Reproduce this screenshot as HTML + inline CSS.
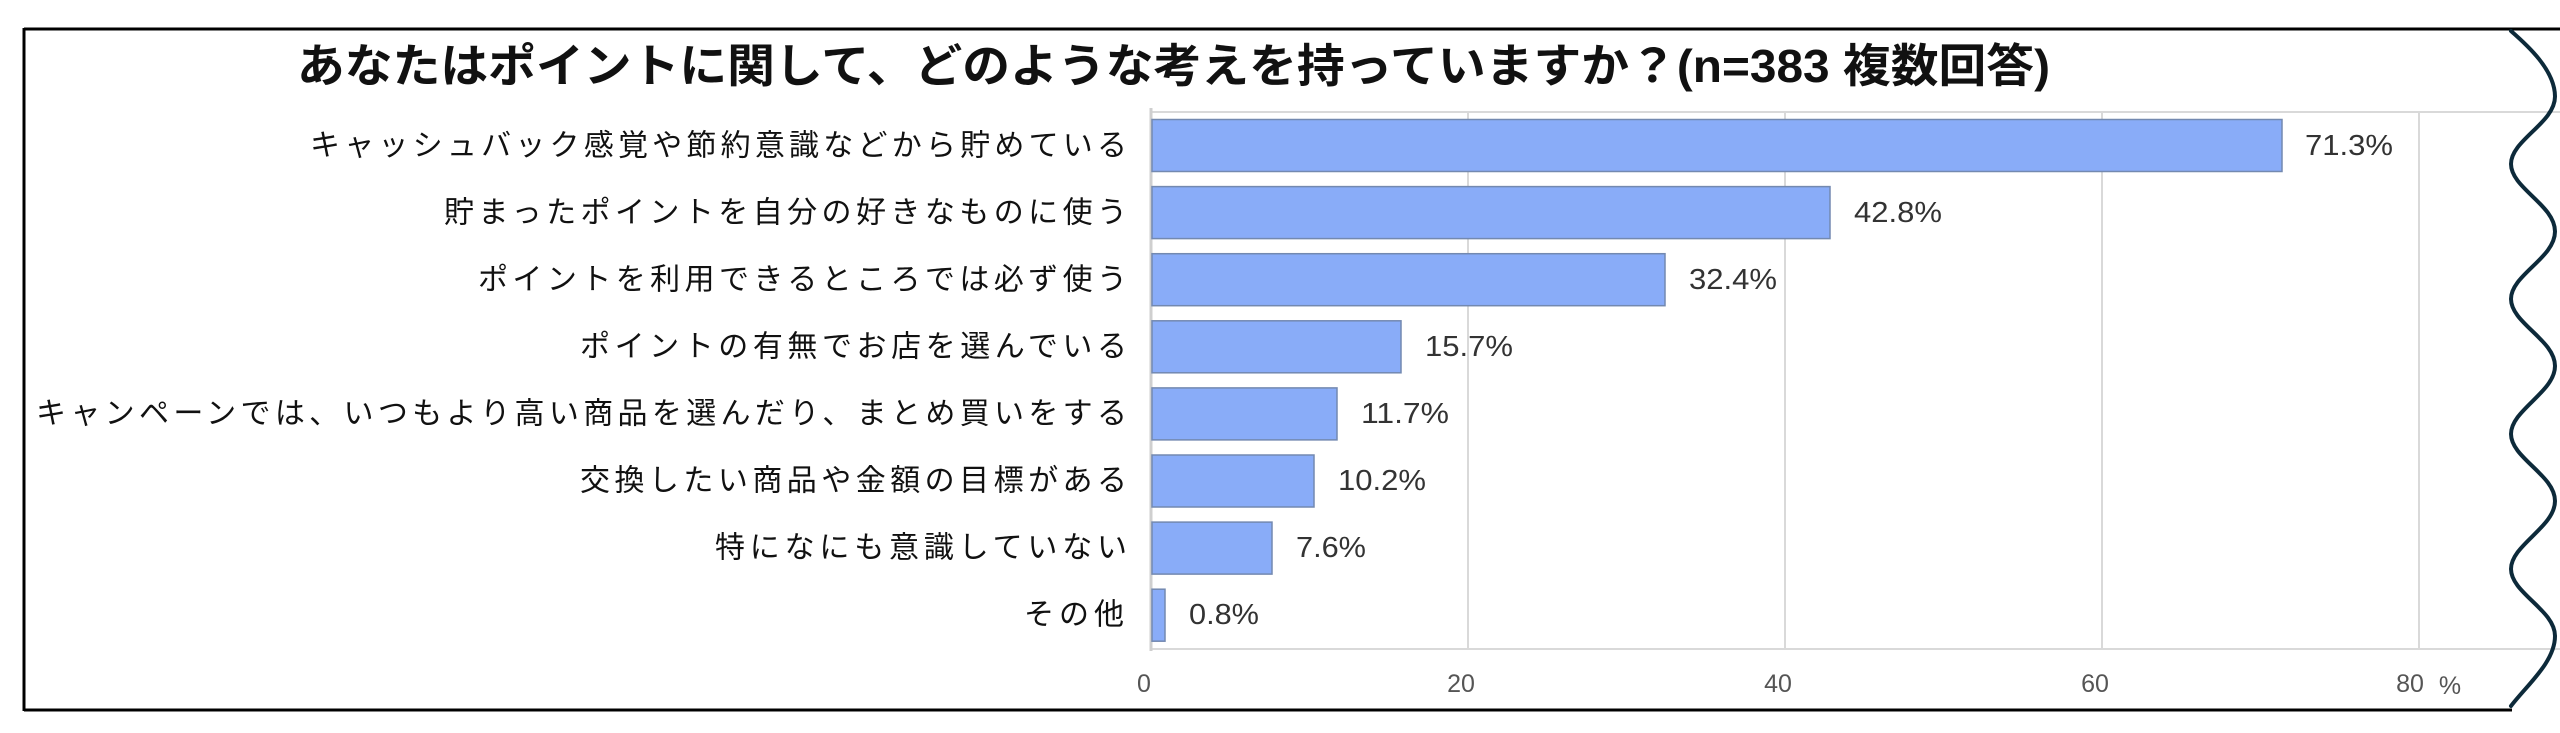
<!DOCTYPE html>
<html><head><meta charset="utf-8"><style>
html,body{margin:0;padding:0;background:#fff;}
svg{display:block;}
text{font-family:"Liberation Sans","Noto Sans CJK JP",sans-serif;}
.lab{font-size:30px;fill:#111;}
.val{font-size:29px;fill:#333;font-family:"Liberation Mono","Noto Sans CJK JP",monospace;}
.tick{font-size:25px;fill:#555;}
</style></head><body>
<svg width="2560" height="733" viewBox="0 0 2560 733" xmlns="http://www.w3.org/2000/svg">
<rect width="2560" height="733" fill="#fff"/>
<!-- gridlines -->
<g stroke="#d9d9d9" stroke-width="2">
<line x1="1151" y1="112" x2="2560" y2="112"/>
<line x1="1151" y1="649" x2="2560" y2="649"/>
<line x1="1468" y1="112" x2="1468" y2="649"/>
<line x1="1785" y1="112" x2="1785" y2="649"/>
<line x1="2102" y1="112" x2="2102" y2="649"/>
<line x1="2419" y1="112" x2="2419" y2="649"/>
</g>
<line x1="1151" y1="108" x2="1151" y2="651" stroke="#cfcfcf" stroke-width="3"/>
<!-- bars -->
<g fill="#89acf8" stroke="#7389b0" stroke-width="1.5">
<rect x="1152" y="119.5" width="1130" height="52"/>
<rect x="1152" y="186.6" width="678" height="52"/>
<rect x="1152" y="253.7" width="513" height="52"/>
<rect x="1152" y="320.8" width="249" height="52"/>
<rect x="1152" y="387.9" width="185" height="52"/>
<rect x="1152" y="455" width="162" height="52"/>
<rect x="1152" y="522.1" width="120" height="52"/>
<rect x="1152" y="589.2" width="13" height="52"/>
</g>
<!-- category labels -->
<g class="lab" text-anchor="end" dominant-baseline="central">
<text x="1127" y="146" textLength="817" lengthAdjust="spacing">キャッシュバック感覚や節約意識などから貯めている</text>
<text x="1127" y="213" textLength="683" lengthAdjust="spacing">貯まったポイントを自分の好きなものに使う</text>
<text x="1127" y="280" textLength="649" lengthAdjust="spacing">ポイントを利用できるところでは必ず使う</text>
<text x="1127" y="347" textLength="547" lengthAdjust="spacing">ポイントの有無でお店を選んでいる</text>
<text x="1127" y="414" textLength="1091" lengthAdjust="spacing">キャンペーンでは、いつもより高い商品を選んだり、まとめ買いをする</text>
<text x="1127" y="481" textLength="547" lengthAdjust="spacing">交換したい商品や金額の目標がある</text>
<text x="1127" y="548" textLength="412" lengthAdjust="spacing">特になにも意識していない</text>
<text x="1124" y="615" textLength="100" lengthAdjust="spacing">その他</text>
</g>
<!-- values -->
<g class="val" dominant-baseline="central">
<text x="2305" y="146" textLength="88" lengthAdjust="spacingAndGlyphs">71.3%</text>
<text x="1854" y="213" textLength="88" lengthAdjust="spacingAndGlyphs">42.8%</text>
<text x="1689" y="280" textLength="88" lengthAdjust="spacingAndGlyphs">32.4%</text>
<text x="1425" y="347" textLength="88" lengthAdjust="spacingAndGlyphs">15.7%</text>
<text x="1361" y="414" textLength="88" lengthAdjust="spacingAndGlyphs">11.7%</text>
<text x="1338" y="481" textLength="88" lengthAdjust="spacingAndGlyphs">10.2%</text>
<text x="1296" y="548" textLength="70" lengthAdjust="spacingAndGlyphs">7.6%</text>
<text x="1189" y="615" textLength="70" lengthAdjust="spacingAndGlyphs">0.8%</text>
</g>
<!-- ticks -->
<g class="tick" text-anchor="middle" dominant-baseline="central">
<text x="1144" y="684">0</text>
<text x="1461" y="684">20</text>
<text x="1778" y="684">40</text>
<text x="2095" y="684">60</text>
<text x="2410" y="684">80</text>
<text x="2450" y="686">%</text>
</g>
<!-- title -->
<text x="297" y="66" font-size="46" font-weight="bold" fill="#111" dominant-baseline="central" textLength="1753" lengthAdjust="spacingAndGlyphs">あなたはポイントに関して、どのような考えを持っていますか？(n=383 複数回答)</text>
<!-- border -->
<g stroke="#000" stroke-width="3" fill="none">
<line x1="24" y1="29" x2="2560" y2="29"/>
<line x1="24" y1="710" x2="2512" y2="710"/>
<line x1="24" y1="28" x2="24" y2="711"/>
</g>
<!-- wavy edge -->
<path fill="none" stroke="#0d2a3a" stroke-width="4" stroke-linecap="round" d="M2511,31 C2527,45 2555,70 2555,96.5 C2555,123 2511,140 2511,164 C2511,188 2555,205 2555,231.5 C2555,258 2511,275 2511,299 C2511,323 2555,340 2555,366 C2555,392 2511,410 2511,434 C2511,458 2555,475 2555,501 C2555,527 2511,545 2511,569 C2511,593 2555,610 2555,636 C2555,662 2527,685 2511,706"/>
</svg>
</body></html>
